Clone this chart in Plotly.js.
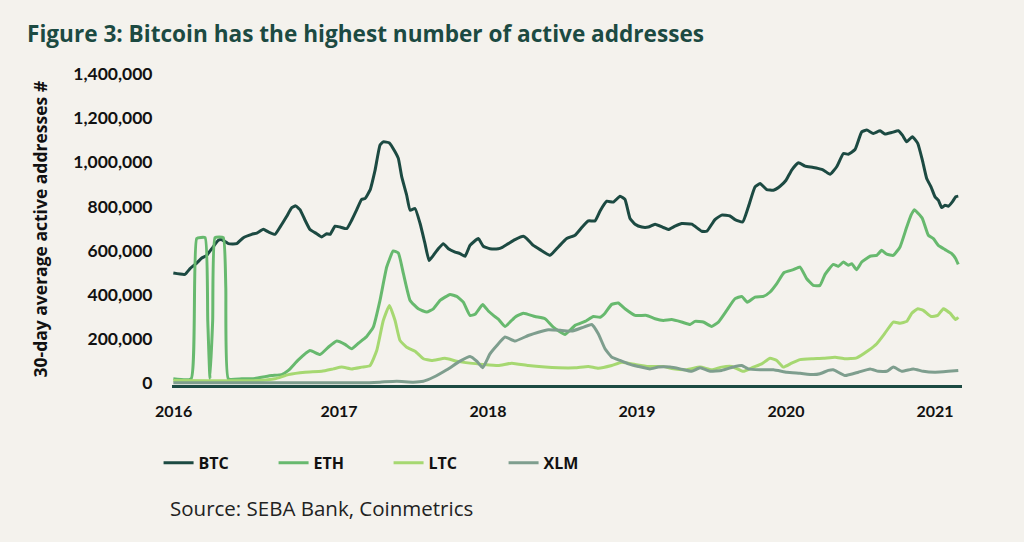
<!DOCTYPE html>
<html>
<head>
<meta charset="utf-8">
<script src="https://cdn.plot.ly/plotly-3.0.1.min.js"></script>
<style>
  html, body { margin: 0; padding: 0; background: #f4f2ed; }
  #chart { width: 1024px; height: 542px; }
</style>
</head>
<body>
<div id="chart"></div>
<script>
// Time expressed as decimal years; values in thousands of addresses
const btcT = [2015.888,2015.966,2016.000,2016.045,2016.079,2016.112,2016.146,2016.190,2016.213,2016.257,2016.313,2016.358,2016.414,2016.448,2016.492,2016.526,2016.570,2016.604,2016.649,2016.683,2016.709,2016.738,2016.772,2016.805,2016.850,2016.884,2016.917,2016.940,2016.973,2017.007,2017.052,2017.085,2017.119,2017.152,2017.174,2017.208,2017.242,2017.275,2017.297,2017.338,2017.376,2017.398,2017.421,2017.454,2017.477,2017.510,2017.544,2017.577,2017.604,2017.633,2017.666,2017.700,2017.734,2017.779,2017.812,2017.846,2017.879,2017.935,2017.968,2018.013,2018.069,2018.092,2018.136,2018.181,2018.237,2018.260,2018.304,2018.349,2018.416,2018.472,2018.528,2018.584,2018.629,2018.673,2018.718,2018.752,2018.797,2018.841,2018.886,2018.919,2018.953,2018.987,2019.032,2019.076,2019.121,2019.177,2019.210,2019.255,2019.300,2019.367,2019.434,2019.468,2019.523,2019.568,2019.624,2019.658,2019.709,2019.747,2019.792,2019.826,2019.870,2019.915,2019.960,2020.000,2020.038,2020.083,2020.128,2020.183,2020.240,2020.262,2020.295,2020.340,2020.385,2020.418,2020.463,2020.508,2020.542,2020.586,2020.631,2020.664,2020.709,2020.754,2020.781,2020.810,2020.848,2020.884,2020.915,2020.944,2020.973,2021.000,2021.022,2021.045,2021.067,2021.089,2021.116,2021.139,2021.156];
const btcV = [499,493,519,544,567,579,609,647,650,632,632,659,674,680,697,685,674,707,756,795,803,786,738,696,677,662,677,674,711,707,700,738,786,832,836,874,965,1078,1093,1088,1048,1018,934,851,783,791,723,632,556,579,609,632,609,594,587,575,624,655,620,609,609,614,632,650,665,655,624,605,579,617,655,670,705,735,735,780,824,820,847,832,746,720,707,707,720,705,696,711,723,720,688,688,741,761,757,741,730,798,889,904,877,874,892,919,965,998,983,977,968,960,946,980,1040,1037,1058,1138,1146,1131,1143,1128,1135,1143,1123,1093,1116,1086,1010,927,889,844,829,795,806,801,821,844,847];

const ethT = [2015.888,2016.007,2016.045,2016.101,2016.119,2016.134,2016.152,2016.168,2016.223,2016.240,2016.257,2016.347,2016.436,2016.503,2016.548,2016.615,2016.660,2016.727,2016.805,2016.872,2016.928,2016.985,2017.040,2017.085,2017.130,2017.186,2017.230,2017.275,2017.320,2017.364,2017.398,2017.432,2017.477,2017.532,2017.589,2017.633,2017.678,2017.745,2017.790,2017.834,2017.879,2017.913,2017.964,2018.002,2018.036,2018.069,2018.114,2018.181,2018.237,2018.315,2018.383,2018.438,2018.517,2018.584,2018.651,2018.707,2018.752,2018.785,2018.830,2018.874,2018.919,2018.987,2019.065,2019.121,2019.177,2019.233,2019.300,2019.356,2019.389,2019.445,2019.501,2019.546,2019.602,2019.658,2019.703,2019.740,2019.792,2019.848,2019.893,2019.938,2019.987,2020.049,2020.094,2020.139,2020.183,2020.228,2020.262,2020.317,2020.351,2020.385,2020.418,2020.441,2020.474,2020.508,2020.564,2020.609,2020.642,2020.676,2020.720,2020.765,2020.810,2020.839,2020.861,2020.888,2020.915,2020.955,2020.989,2021.022,2021.067,2021.112,2021.139,2021.156];
const ethV = [20,20,655,659,284,20,284,659,659,435,20,20,22,30,35,39,58,106,148,130,163,191,176,156,181,212,254,375,526,599,590,496,375,337,322,337,375,402,393,367,307,312,356,327,307,290,257,299,317,302,292,254,221,262,280,302,299,317,357,363,337,307,307,292,284,288,277,266,280,277,257,277,330,383,393,367,390,393,413,451,501,514,526,473,443,443,493,538,529,549,534,541,514,549,575,579,602,584,579,617,707,761,786,768,746,670,655,624,605,587,564,538];

const ltcT = [2015.888,2016.456,2016.570,2016.660,2016.772,2016.884,2016.962,2017.018,2017.085,2017.152,2017.208,2017.253,2017.297,2017.338,2017.376,2017.409,2017.454,2017.510,2017.566,2017.622,2017.711,2017.790,2017.879,2017.968,2018.069,2018.159,2018.270,2018.383,2018.472,2018.584,2018.673,2018.740,2018.830,2018.897,2018.987,2019.076,2019.177,2019.244,2019.334,2019.423,2019.501,2019.568,2019.636,2019.713,2019.781,2019.837,2019.893,2019.938,2019.982,2020.038,2020.094,2020.183,2020.250,2020.329,2020.396,2020.474,2020.552,2020.609,2020.664,2020.720,2020.765,2020.810,2020.844,2020.884,2020.921,2020.973,2021.018,2021.056,2021.101,2021.139,2021.156];
const ltcV = [12,12,20,39,50,54,65,73,65,73,80,148,284,352,284,194,163,145,111,103,113,100,91,85,80,91,80,73,70,70,76,68,80,95,85,76,76,65,61,73,61,73,76,54,73,88,113,103,73,91,107,111,113,118,111,115,148,179,227,277,272,280,317,337,330,302,307,337,317,288,299];

const xlmT = [2015.888,2016.940,2017.163,2017.275,2017.387,2017.499,2017.566,2017.633,2017.723,2017.812,2017.879,2017.924,2017.964,2018.013,2018.058,2018.114,2018.181,2018.270,2018.338,2018.405,2018.495,2018.562,2018.629,2018.696,2018.740,2018.785,2018.830,2018.886,2018.942,2019.009,2019.087,2019.143,2019.221,2019.289,2019.367,2019.423,2019.490,2019.568,2019.658,2019.703,2019.747,2019.826,2019.915,2020.005,2020.094,2020.183,2020.228,2020.284,2020.317,2020.396,2020.485,2020.564,2020.620,2020.676,2020.720,2020.777,2020.854,2020.921,2021.000,2021.089,2021.156];
const xlmV = [2,2,2,5,9,5,9,27,61,100,121,100,70,133,170,209,191,216,231,242,239,236,251,266,224,156,118,103,88,76,65,73,73,65,54,70,54,58,76,80,65,61,61,50,45,39,43,58,61,35,50,65,54,54,73,54,65,54,50,54,58];

const seriesNames = ['BTC','ETH','LTC','XLM'];
const seriesColors = ['#1c4a42','#67b96e','#a6d871','#7e9e8e'];
const tickVals = [2015.89,2017,2018,2019,2020,2021];
const tickText = ['2016','2017','2018','2019','2020','2021'];

const T = [btcT, ethT, ltcT, xlmT];
const V = [btcV, ethV, ltcV, xlmV];

const traces = seriesNames.map((name, i) => ({
  type: 'scatter',
  mode: 'lines',
  name: name,
  x: T[i],
  y: V[i].map(v => v * 1000),
  line: { color: seriesColors[i], width: 3, shape: 'spline', smoothing: 0.4 },
  hoverinfo: 'skip'
}));

const font = 'Lato, "Noto Sans", sans-serif';
const wide = '"Open Sans", Lato, sans-serif';

const layout = {
  width: 1024,
  height: 542,
  paper_bgcolor: '#f4f2ed',
  plot_bgcolor: '#f4f2ed',
  margin: { l: 172, r: 62, t: 74, b: 157, pad: 0 },
  showlegend: true,
  title: {
    text: '<b>Figure 3: Bitcoin has the highest number of active addresses</b>',
    font: { family: wide, size: 22.6, color: '#1c4a42' },
    x: 27 / 1024, xanchor: 'left', xref: 'container',
    y: 1 - 34 / 542, yanchor: 'middle', yref: 'container'
  },
  xaxis: {
    range: [2015.879, 2021.181],
    tickmode: 'array',
    tickvals: tickVals,
    ticktext: tickText,
    showgrid: false,
    zeroline: false,
    showline: true,
    linecolor: '#1c4a42',
    linewidth: 3,
    ticks: 'outside',
    ticklen: 10,
    tickcolor: 'rgba(0,0,0,0)',
    tickfont: { family: font, size: 16, color: '#111111', weight: 'bold' },
    fixedrange: true
  },
  yaxis: {
    range: [-8000, 1400000],
    tickmode: 'array',
    tickvals: [0,200000,400000,600000,800000,1000000,1200000,1400000],
    tickformat: ',d',
    showgrid: false,
    zeroline: false,
    showline: false,
    ticks: 'outside',
    ticklen: 15,
    tickcolor: 'rgba(0,0,0,0)',
    tickfont: { family: font, size: 17.5, color: '#111111', weight: 'bold' },
    fixedrange: true
  },
  legend: {
    orientation: 'h',
    x: -0.017, xanchor: 'left',
    y: -0.25, yanchor: 'middle',
    font: { family: wide, size: 16, color: '#111111', weight: 'bold' },
    bgcolor: 'rgba(0,0,0,0)',
    itemwidth: 30,
    entrywidth: 70,
    entrywidthmode: 'pixels',
    traceorder: 'normal'
  },
  annotations: [
    {
      text: '<b>30-day average active addresses #</b>',
      xref: 'paper', yref: 'paper',
      x: 0, y: 0.5, xanchor: 'center', yanchor: 'middle',
      xshift: -133, textangle: -90, showarrow: false,
      font: { family: wide, size: 17.5, color: '#111111' }
    },
    {
      text: 'Source: SEBA Bank, Coinmetrics',
      xref: 'paper', yref: 'paper',
      x: 0, y: 0, xanchor: 'left', yanchor: 'middle',
      xshift: -4, yshift: -(507 - 384.5), showarrow: false,
      font: { family: wide, size: 20.5, color: '#222222' }
    }
  ]
};

Plotly.newPlot('chart', traces, layout, { displayModeBar: false, staticPlot: true });
</script>
</body>
</html>
